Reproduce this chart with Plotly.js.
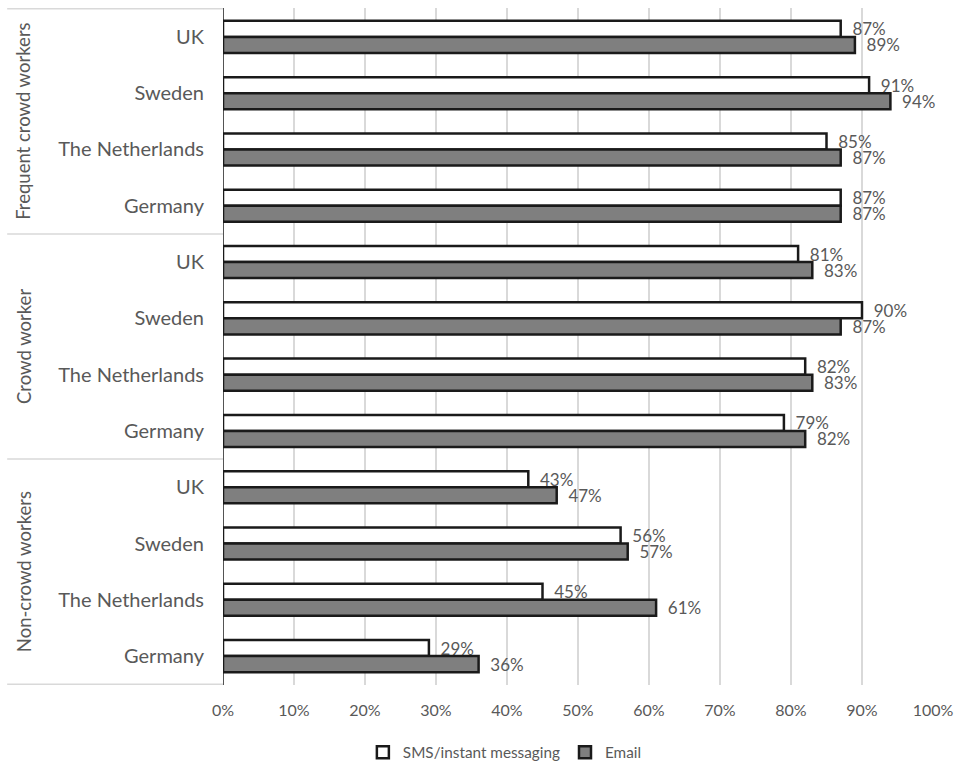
<!DOCTYPE html>
<html>
<head>
<meta charset="utf-8">
<script src="https://cdn.plot.ly/plotly-3.0.1.min.js"></script>
<style>html,body{margin:0;padding:0;background:#fff;}#chart{width:960px;height:763px;}</style>
</head>
<body>
<div id="chart"></div>
<script>
const groups = ["Frequent crowd workers", "Crowd worker", "Non-crowd workers"];
const countries = ["UK", "Sweden", "The Netherlands", "Germany"];
const smsValues = [0.87, 0.91, 0.85, 0.87, 0.81, 0.90, 0.82, 0.79, 0.43, 0.56, 0.45, 0.29];
const emailValues = [0.89, 0.94, 0.87, 0.87, 0.83, 0.87, 0.83, 0.82, 0.47, 0.57, 0.61, 0.36];
const seriesNames = ["SMS/instant messaging", "Email"];
const xTickVals = [0, 0.1, 0.2, 0.3, 0.4, 0.5, 0.6, 0.7, 0.8, 0.9, 1.0];

const keys = [], labels = [];
groups.forEach(g => countries.forEach(c => { keys.push(g + "|" + c); labels.push(c); }));

const FONT = "Lato, 'Open Sans', sans-serif";
const GRAY = "#595959";
const PAD = "\u00a0\u00a0";

const traces = [
  {type: "bar", orientation: "h", name: seriesNames[0], y: keys, x: smsValues,
   marker: {color: "#ffffff", line: {color: "#1a1a1a", width: 2.5}},
   text: smsValues.map(v => PAD + Math.round(v * 100) + "%"), textposition: "outside",
   constraintext: "none",
   textfont: {family: FONT, size: 17, color: GRAY}, cliponaxis: false, hoverinfo: "x"},
  {type: "bar", orientation: "h", name: seriesNames[1], y: keys, x: emailValues,
   marker: {color: "#7f7f7f", line: {color: "#1a1a1a", width: 2.5}},
   text: emailValues.map(v => PAD + Math.round(v * 100) + "%"), textposition: "outside",
   constraintext: "none",
   textfont: {family: FONT, size: 17, color: GRAY}, cliponaxis: false, hoverinfo: "x"}
];

const shapes = [];
[-0.5, 3.5, 7.5, 11.5].forEach(yv => {
  shapes.push({type: "line", xref: "paper", yref: "y", x0: -0.304, x1: 0, y0: yv, y1: yv,
    line: {color: "#d9d9d9", width: 1.5}});
});

const annotations = groups.map((g, i) => ({
  text: g, xref: "paper", yref: "y", x: -0.281, y: i * 4 + 1.5,
  textangle: -90, showarrow: false, xanchor: "center", yanchor: "middle",
  font: {family: FONT, size: 18.5, color: GRAY}
}));

const layout = {
  width: 960, height: 763,
  margin: {l: 223, r: 27, t: 8, b: 78},
  paper_bgcolor: "#ffffff", plot_bgcolor: "#ffffff",
  barmode: "group", bargap: 0.43, bargroupgap: 0,
  showlegend: true,
  legend: {orientation: "h", x: 0.397, xanchor: "center", yref: "container", y: 0.014, yanchor: "middle",
    font: {family: FONT, size: 15.3, color: GRAY}, traceorder: "normal"},
  xaxis: {range: [0, 1], tickvals: xTickVals, tickformat: ".0%", showgrid: true, automargin: false,
    gridcolor: "#d9d9d9", gridwidth: 1.5, zeroline: false, showline: false, ticks: "",
    ticklabelstandoff: 14, tickfont: {family: FONT, size: 16, color: GRAY}, fixedrange: true},
  yaxis: {type: "category", categoryorder: "array", categoryarray: keys, automargin: false,
    tickvals: keys, ticktext: labels, autorange: "reversed", showgrid: false,
    zeroline: false, showline: false, ticks: "", ticklabelstandoff: 18,
    tickfont: {family: FONT, size: 20, color: GRAY}, fixedrange: true},
  shapes: shapes.concat([{type: "line", xref: "x", yref: "paper", x0: 0, x1: 0, y0: 0, y1: 1,
    line: {color: "#1a1a1a", width: 1.5}}]),
  annotations: annotations
};

Plotly.newPlot("chart", traces, layout, {displayModeBar: false, staticPlot: true});
</script>
</body>
</html>
